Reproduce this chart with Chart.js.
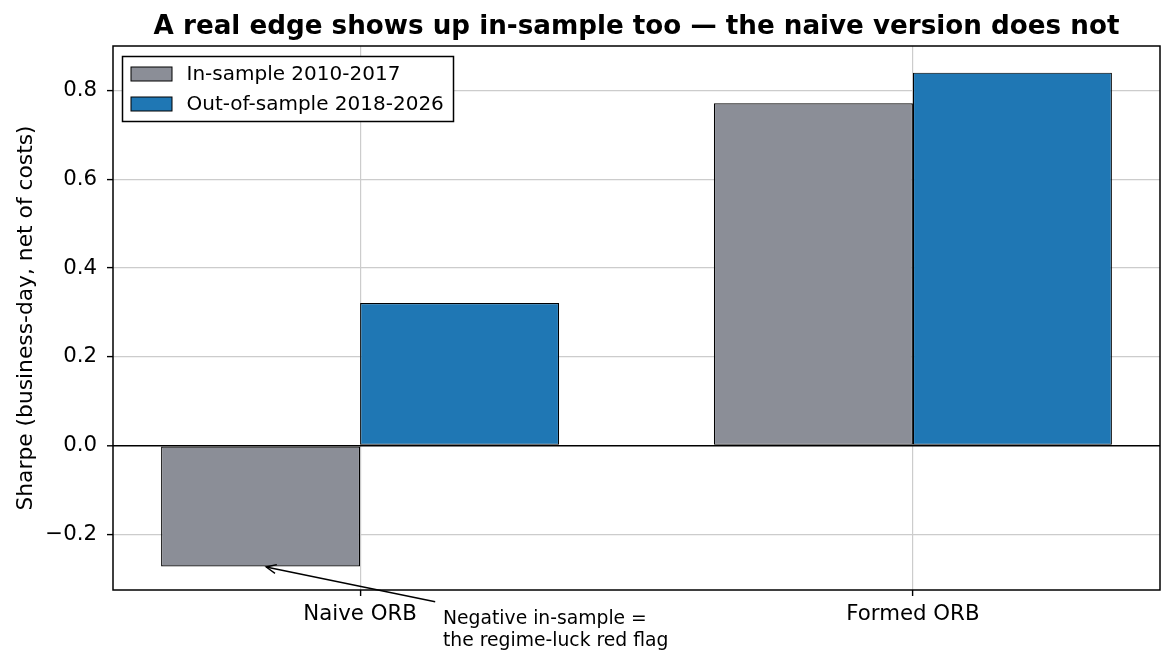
<!DOCTYPE html>
<html>
<head>
<meta charset="utf-8">
<script src="https://cdn.jsdelivr.net/npm/chart.js@4.4.1/dist/chart.umd.min.js"></script>
<style>
  body { margin: 0; background: #fff; }
  canvas { display: block; }
</style>
</head>
<body>
<canvas id="sharpeChart" width="1174" height="667"></canvas>
<script>
// categories and series
var categories = ['Naive ORB', 'Formed ORB'];
var inSample = [-0.272, 0.771];
var outSample = [0.321, 0.840];
var seriesNames = ['In-sample 2010-2017', 'Out-of-sample 2018-2026'];
var yTicks = [-0.2, 0.0, 0.2, 0.4, 0.6, 0.8];

var titleText = 'A real edge shows up in-sample too \u2014 the naive version does not';
var noteLines = ['Negative in-sample =', 'the regime-luck red flag'];

var FONT = "'DejaVu Sans', sans-serif";
var GRAY = '#8b8e97';
var BLUE = '#1f77b4';

function toPoints(vals) {
    return vals.map(function (v, i) { return { x: i, y: v }; });
}

// title, legend box, frame and the annotation arrow
var extras = {
    id: 'extras',
    afterDraw: function (chart) {
        var ctx = chart.ctx;
        var a = chart.chartArea;
        var xs = chart.scales.x, ys = chart.scales.y;
        ctx.save();

        // frame
        ctx.strokeStyle = '#000';
        ctx.lineWidth = 1.5;
        ctx.strokeRect(a.left, a.top, a.right - a.left, a.bottom - a.top);

        // title
        ctx.fillStyle = '#000';
        ctx.font = 'bold 26.2px ' + FONT;
        ctx.textAlign = 'center';
        ctx.textBaseline = 'alphabetic';
        ctx.fillText(titleText, (a.left + a.right) / 2, 34);

        // legend
        var lx = a.left + 9.5, ly = a.top + 10.5;
        ctx.fillStyle = '#fff';
        ctx.fillRect(lx, ly, 331, 65);
        ctx.lineWidth = 1.5;
        ctx.strokeStyle = '#000';
        ctx.strokeRect(lx, ly, 331, 65);
        var cols = [GRAY, BLUE];
        ctx.font = '20px ' + FONT;
        ctx.textAlign = 'left';
        ctx.textBaseline = 'middle';
        for (var i = 0; i < seriesNames.length; i++) {
            var ry = ly + 17.5 + i * 30;
            ctx.fillStyle = cols[i];
            ctx.fillRect(lx + 8.5, ry - 7, 41, 14);
            ctx.lineWidth = 1;
            ctx.strokeRect(lx + 8.5, ry - 7, 41, 14);
            ctx.fillStyle = '#000';
            ctx.fillText(seriesNames[i], lx + 64, ry + 1);
        }

        // annotation
        var tipX = xs.getPixelForValue(-0.17), tipY = ys.getPixelForValue(inSample[0]) + 0.5;
        var txtX = xs.getPixelForValue(0.15), txtY = ys.getPixelForValue(-0.355);
        var dx = tipX - txtX, dy = tipY - txtY, len = Math.sqrt(dx * dx + dy * dy);
        var ux = dx / len, uy = dy / len;
        var tailX = txtX + ux * 8, tailY = txtY + uy * 8;
        ctx.strokeStyle = '#000';
        ctx.lineWidth = 1.4;
        ctx.beginPath();
        ctx.moveTo(tailX, tailY);
        ctx.lineTo(tipX, tipY);
        ctx.stroke();
        var hl = 10, hw = 4.5;
        ctx.beginPath();
        ctx.moveTo(tipX - ux * hl - uy * hw, tipY - uy * hl + ux * hw);
        ctx.lineTo(tipX, tipY);
        ctx.lineTo(tipX - ux * hl + uy * hw, tipY - uy * hl - ux * hw);
        ctx.stroke();

        ctx.fillStyle = '#000';
        ctx.font = '18.75px ' + FONT;
        ctx.textAlign = 'left';
        ctx.textBaseline = 'alphabetic';
        for (var k = 0; k < noteLines.length; k++) {
            ctx.fillText(noteLines[k], txtX, txtY + 20.5 + k * 22);
        }
        ctx.restore();
    }
};

var ctx = document.getElementById('sharpeChart').getContext('2d');
var chart = new Chart(ctx, {
    type: 'bar',
    data: {
        datasets: [{
            label: seriesNames[0],
            data: toPoints(inSample),
            backgroundColor: GRAY,
            borderColor: '#000',
            borderWidth: 1.2,
            borderSkipped: false
        }, {
            label: seriesNames[1],
            data: toPoints(outSample),
            backgroundColor: BLUE,
            borderColor: '#000',
            borderWidth: 1.2,
            borderSkipped: false
        }]
    },
    options: {
        responsive: false,
        animation: false,
        devicePixelRatio: 1,
        categoryPercentage: 0.72,
        barPercentage: 1.0,
        layout: { padding: { top: 46, right: 14, left: 0, bottom: 0 } },
        plugins: {
            legend: { display: false },
            title: { display: false },
            tooltip: { enabled: false }
        },
        scales: {
            x: {
                type: 'linear',
                min: -0.447,
                max: 1.447,
                offset: false,
                z: 1,
                grid: {
                    offset: false,
                    color: '#cccccc',
                    lineWidth: 1.2,
                    tickColor: '#000',
                    tickLength: 6,
                    tickWidth: 1.4
                },
                border: { display: false },
                afterBuildTicks: function (s) {
                    s.ticks = categories.map(function (c, i) { return { value: i }; });
                },
                afterFit: function (s) { s.height = 77; },
                ticks: {
                    color: '#000',
                    padding: 6,
                    maxRotation: 0,
                    autoSkip: false,
                    font: { family: FONT, size: 21.3 },
                    callback: function (v) { return categories[v]; }
                }
            },
            y: {
                min: -0.325,
                max: 0.9,
                z: 1,
                grid: {
                    color: function (c) { return c.tick && c.tick.value === 0 ? '#000' : '#cccccc'; },
                    lineWidth: function (c) { return c.tick && c.tick.value === 0 ? 1.6 : 1.2; },
                    tickColor: '#000',
                    tickLength: 6,
                    tickWidth: 1.4
                },
                border: { display: false },
                afterBuildTicks: function (s) {
                    s.ticks = yTicks.map(function (v) { return { value: v }; });
                },
                afterFit: function (s) { s.width = 113; },
                title: {
                    display: true,
                    text: 'Sharpe (business-day, net of costs)',
                    color: '#000',
                    font: { family: FONT, size: 21.8 },
                    padding: { top: 13, bottom: 0 }
                },
                ticks: {
                    color: '#000',
                    padding: 10,
                    font: { family: FONT, size: 21.3 },
                    callback: function (v) {
                        var s = Math.abs(v).toFixed(1);
                        return v < 0 ? '\u2212' + s : s;
                    }
                }
            }
        }
    },
    plugins: [extras]
});
</script>
</body>
</html>
